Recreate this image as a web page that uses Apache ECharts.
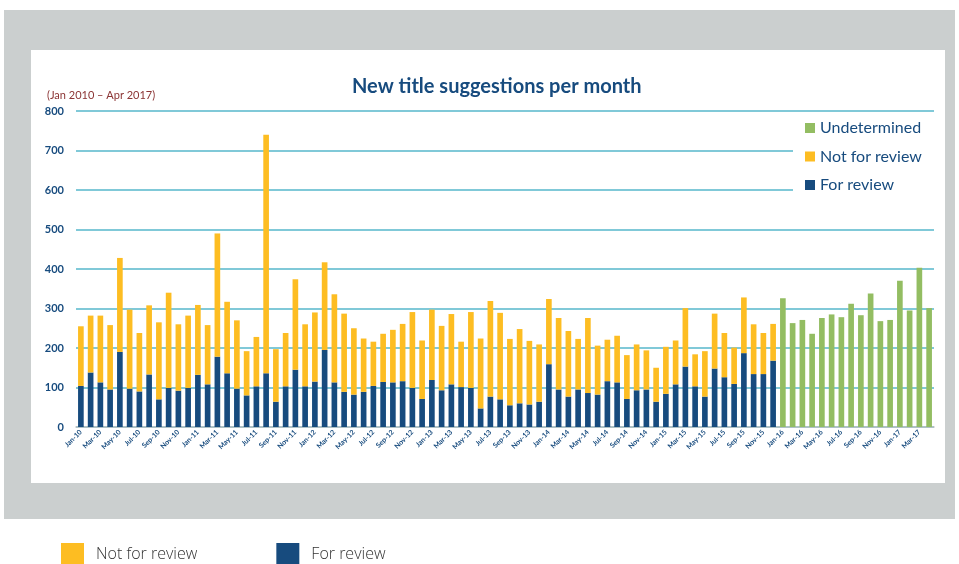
<!DOCTYPE html>
<html>
<head>
<meta charset="utf-8">
<script src="https://cdn.jsdelivr.net/npm/echarts@6/dist/echarts.min.js"></script>
<style>
html, body { margin: 0; padding: 0; background: #fff; }
#main { width: 959px; height: 564px; }
</style>
</head>
<body>
<div id="main"></div>
<script>
var months = [
  'Jan-10','Feb-10','Mar-10','Apr-10','May-10','Jun-10','Jul-10','Aug-10','Sep-10','Oct-10','Nov-10','Dec-10',
  'Jan-11','Feb-11','Mar-11','Apr-11','May-11','Jun-11','Jul-11','Aug-11','Sep-11','Oct-11','Nov-11','Dec-11',
  'Jan-12','Feb-12','Mar-12','Apr-12','May-12','Jun-12','Jul-12','Aug-12','Sep-12','Oct-12','Nov-12','Dec-12',
  'Jan-13','Feb-13','Mar-13','Apr-13','May-13','Jun-13','Jul-13','Aug-13','Sep-13','Oct-13','Nov-13','Dec-13',
  'Jan-14','Feb-14','Mar-14','Apr-14','May-14','Jun-14','Jul-14','Aug-14','Sep-14','Oct-14','Nov-14','Dec-14',
  'Jan-15','Feb-15','Mar-15','Apr-15','May-15','Jun-15','Jul-15','Aug-15','Sep-15','Oct-15','Nov-15','Dec-15',
  'Jan-16','Feb-16','Mar-16','Apr-16','May-16','Jun-16','Jul-16','Aug-16','Sep-16','Oct-16','Nov-16','Dec-16',
  'Jan-17','Feb-17','Mar-17','Apr-17'
];

// Jan 2010 - Dec 2015
var forReview = [
  104, 138, 113, 95, 190, 97, 90, 133, 70, 99, 92, 99,
  132, 108, 178, 136, 97, 80, 103, 136, 64, 103, 145, 103,
  115, 195, 113, 89, 82, 89, 104, 114, 113, 116, 99, 71,
  119, 93, 108, 101, 99, 47, 77, 70, 55, 60, 57, 64,
  159, 95, 77, 95, 86, 82, 116, 113, 71, 93, 95, 64,
  84, 108, 153, 103, 77, 148, 126, 109, 187, 134, 134, 168
];
var notForReview = [
  151, 144, 169, 163, 238, 200, 148, 175, 195, 241, 168, 183,
  177, 150, 312, 181, 173, 112, 125, 604, 133, 135, 229, 157,
  175, 222, 223, 198, 168, 135, 112, 122, 133, 145, 192, 148,
  178, 163, 178, 115, 192, 177, 242, 219, 168, 188, 161, 145,
  165, 181, 166, 128, 190, 124, 105, 118, 111, 116, 99, 86,
  119, 111, 148, 81, 115, 139, 112, 92, 141, 126, 104, 93
];
// Jan 2016 - Apr 2017
var undetermined = [
  326, 263, 271, 236, 276, 285, 278, 312, 283, 338, 268, 271,
  370, 295, 403, 301
];

var nDone = forReview.length;
var blueData = [], yellowData = [], greenData = [];
for (var i = 0; i < months.length; i++) {
  blueData.push(i < nDone ? forReview[i] : null);
  yellowData.push(i < nDone ? notForReview[i] : null);
  greenData.push(i < nDone ? null : undetermined[i - nDone]);
}

var navy = '#174B7E';
var myChart = echarts.init(document.getElementById('main'));
var option = {
  animation: false,
  textStyle: { fontFamily: 'Lato' },
  graphic: {
    elements: [
      { type: 'rect', z: -10, silent: true, shape: { x: 4, y: 10, width: 951, height: 509 }, style: { fill: '#CBCFCF' } },
      { type: 'rect', z: -9, silent: true, shape: { x: 31, y: 50, width: 914, height: 433 }, style: { fill: '#ffffff' } },
      { type: 'text', z: 5, left: 47, top: 90, style: { text: '(Jan 2010 \u2013 Apr 2017)', fill: '#8B3434', font: '11px Lato' } }
    ]
  },
  title: {
    text: 'New title suggestions per month',
    left: 347,
    top: 72,
    textStyle: { color: navy, fontSize: 20, fontWeight: 'bold', fontFamily: 'Lato' }
  },
  legend: [
    {
      orient: 'vertical',
      left: 793,
      top: 114,
      padding: [6, 14, 6, 12],
      backgroundColor: '#ffffff',
      itemWidth: 10,
      itemHeight: 10,
      itemGap: 12.5,
      icon: 'rect',
      data: ['Undetermined', 'Not for review', 'For review'],
      textStyle: { color: navy, fontSize: 16, fontFamily: 'Lato' }
    },
    {
      orient: 'horizontal',
      left: 56,
      top: 538,
      itemWidth: 23,
      itemHeight: 23,
      itemGap: 79,
      icon: 'rect',
      data: ['Not for review', 'For review'],
      textStyle: { color: '#333', fontSize: 16, fontFamily: 'Open Sans', fontWeight: 300, padding: [0, 0, 0, 7] }
    }
  ],
  grid: { left: 76, right: 25, top: 111, bottom: 137 },
  xAxis: {
    type: 'category',
    data: months,
    axisLine: { lineStyle: { color: '#BFBFBF', width: 1.5 } },
    axisTick: { show: false },
    axisLabel: { interval: 1, rotate: 45, fontSize: 7, fontWeight: 'bold', color: navy, margin: 4 }
  },
  yAxis: {
    type: 'value',
    min: 0,
    max: 800,
    interval: 100,
    axisLine: { show: false },
    axisTick: { show: false },
    axisLabel: { fontSize: 11, fontWeight: 'bold', color: navy, margin: 12 },
    splitLine: { lineStyle: { color: '#80C9D8', width: 2 } }
  },
  series: [
    {
      name: 'For review', type: 'bar', stack: 'a', data: blueData,
      barCategoryGap: '42%',
      itemStyle: { color: navy }
    },
    {
      name: 'Not for review', type: 'bar', stack: 'a', data: yellowData,
      itemStyle: { color: '#FDBD22' }
    },
    {
      name: 'Undetermined', type: 'bar', stack: 'a', data: greenData,
      itemStyle: { color: '#93BD62' }
    }
  ]
};
myChart.setOption(option);
</script>
</body>
</html>
